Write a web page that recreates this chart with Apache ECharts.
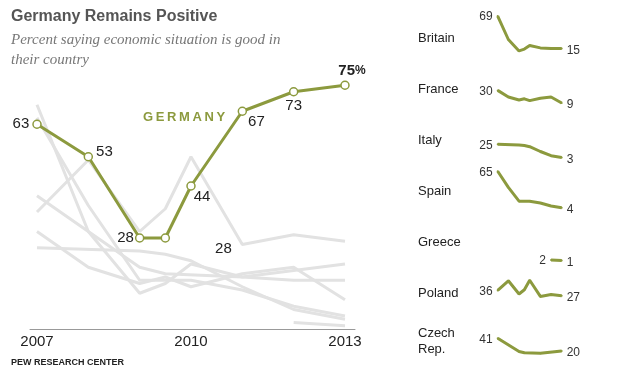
<!DOCTYPE html>
<html>
<head>
<meta charset="utf-8">
<script src="https://cdn.jsdelivr.net/npm/echarts@6/dist/echarts.min.js"></script>
<style>
html, body { margin: 0; padding: 0; background: #fff; }
#chart-container { width: 620px; height: 376px; }
</style>
</head>
<body>
<div id="chart-container"></div>
<script>
var dom = document.getElementById("chart-container");
var myChart = echarts.init(dom, null, { renderer: "canvas" });

// survey waves (2009.5 = fall 2009)
var years = [2007, 2008, 2009, 2009.5, 2010, 2011, 2012, 2013];
var germany = [63, 53, 28, 28, 44, 67, 73, 75];

var countries = ["Britain", "France", "Italy", "Spain", "Greece", "Poland", "Czech\nRep."];
var britain = [69, 30, 11, 14, 20, 16, 15, 15];
var france = [30, 19, 14, 16, 13, 17, 19, 9];
var italy = [25, null, 24, 23, 21, 13, 6, 3];
var spain = [65, 38, 15, null, 15, 12, 7, 4];
var greece = [null, null, null, null, null, null, 2, 1];
var poland = [36, 52, 30, 37, 53, 26, 29, 27];
var czech = [41, null, 19, 17, null, 16, null, 20];
var others = [britain, france, italy, spain, greece, poland, czech];

var xTicks = [2007, 2010, 2013];

// label placement for the Germany points
var gLabelPos = ["left", "right", "left", "right", "right", "right", "bottom", "top"];
var gLabelDist = [3, 3, 1, 45, 0, 1, 2, 2];
var gLabelOffset = [[0, 0], [0, -5], [0, 0], [0, 11], [-2, 11], [0, 11], [0, 0], [7, 0]];

var OLIVE = "#8c9a3e";
var GREY = "#e2e2e2";
var NUM_FONT = "Liberation Sans";

function pairs(vals) {
  return years.map(function (y, i) { return [y, vals[i]]; });
}

var grids = [{ left: 30, width: 325, top: 69, height: 260 }];
var xAxes = [{
  type: "value", gridIndex: 0, min: 2006.864, max: 2013.195,
  axisLine: { show: true, lineStyle: { color: "#999", width: 1 } },
  axisTick: { show: false },
  splitLine: { show: false },
  axisLabel: {
    customValues: xTicks, margin: 5, fontSize: 15, color: "#222", fontFamily: NUM_FONT,
    formatter: function (v) { return String(v); }
  }
}];
var yAxes = [{ type: "value", gridIndex: 0, min: 0, max: 80, show: false }];
var series = [];

// grey lines of the other countries in the main chart
others.forEach(function (vals, k) {
  series.push({
    type: "line", xAxisIndex: 0, yAxisIndex: 0, data: pairs(vals),
    connectNulls: true, symbol: "none", silent: true, z: 1,
    lineStyle: { color: GREY, width: 3 }
  });
});

series.push({
  name: "Germany", type: "line", xAxisIndex: 0, yAxisIndex: 0, z: 5,
  data: years.map(function (y, i) {
    return {
      value: [y, germany[i]],
      label: {
        position: gLabelPos[i], distance: gLabelDist[i], offset: gLabelOffset[i],
        formatter: i === years.length - 1 ? "{b|" + germany[i] + "}{p|%}" : String(germany[i])
      }
    };
  }),
  symbol: "circle", symbolSize: 8,
  itemStyle: { color: "#fff", borderColor: OLIVE, borderWidth: 1.5 },
  lineStyle: { color: OLIVE, width: 3 },
  label: {
    show: true, fontSize: 15, color: "#222", fontFamily: NUM_FONT,
    rich: {
      b: { fontSize: 15, fontWeight: "bold", color: "#222", fontFamily: NUM_FONT },
      p: { fontSize: 12, fontWeight: "bold", color: "#222", fontFamily: NUM_FONT }
    }
  }
});

// small multiples on the right
var graphics = [];
others.forEach(function (vals, k) {
  var zero = 57.5 + 50.9 * k;
  grids.push({ left: 497.7, width: 64, top: zero - 42, height: 42 });
  xAxes.push({ type: "value", gridIndex: k + 1, min: 2007, max: 2013, show: false });
  yAxes.push({ type: "value", gridIndex: k + 1, min: 0, max: 70, show: false });
  var first = -1, last = -1;
  vals.forEach(function (v, i) { if (v !== null) { if (first < 0) first = i; last = i; } });
  series.push({
    type: "line", xAxisIndex: k + 1, yAxisIndex: k + 1, connectNulls: true,
    data: years.map(function (y, i) {
      var item = { value: [y, vals[i]] };
      if (i === first) item.label = { show: true, position: "left", distance: 4, offset: [0, 1] };
      if (i === last) item.label = { show: true, position: "right", distance: 4, offset: [0, 2] };
      return item;
    }),
    symbol: "circle", symbolSize: 2, silent: true,
    itemStyle: { color: OLIVE },
    lineStyle: { color: OLIVE, width: 3 },
    label: { show: false, fontSize: 12, color: "#333", fontFamily: NUM_FONT }
  });
  graphics.push({
    type: "text", x: 418, y: k === 6 ? 341 : zero - 19,
    style: {
      text: countries[k], fill: "#222", font: "13px 'Liberation Sans'",
      verticalAlign: "middle", lineHeight: 16
    }
  });
});

graphics.push(
  { type: "text", x: 11, y: 17,
    style: { text: "Germany Remains Positive", fill: "#555", font: "bold 16px 'Liberation Sans'", verticalAlign: "middle" } },
  { type: "text", x: 11, y: 30,
    style: { text: "Percent saying economic situation is good in\ntheir country", fill: "#777",
      font: "italic 15px 'Liberation Serif'", lineHeight: 20, verticalAlign: "top" } },
  { type: "text", x: 143, y: 117,
    style: { text: "G\u2009E\u2009R\u2009M\u2009A\u2009N\u2009Y", fill: OLIVE, font: "bold 13px 'Liberation Sans'", verticalAlign: "middle" } },
  { type: "text", x: 11, y: 363,
    style: { text: "PEW RESEARCH CENTER", fill: "#222", font: "bold 9px 'Liberation Sans', sans-serif", verticalAlign: "middle" } }
);

var option = {
  animation: false,
  grid: grids,
  xAxis: xAxes,
  yAxis: yAxes,
  series: series,
  graphic: graphics
};

myChart.setOption(option);
window.addEventListener("resize", myChart.resize);
</script>
</body>
</html>
